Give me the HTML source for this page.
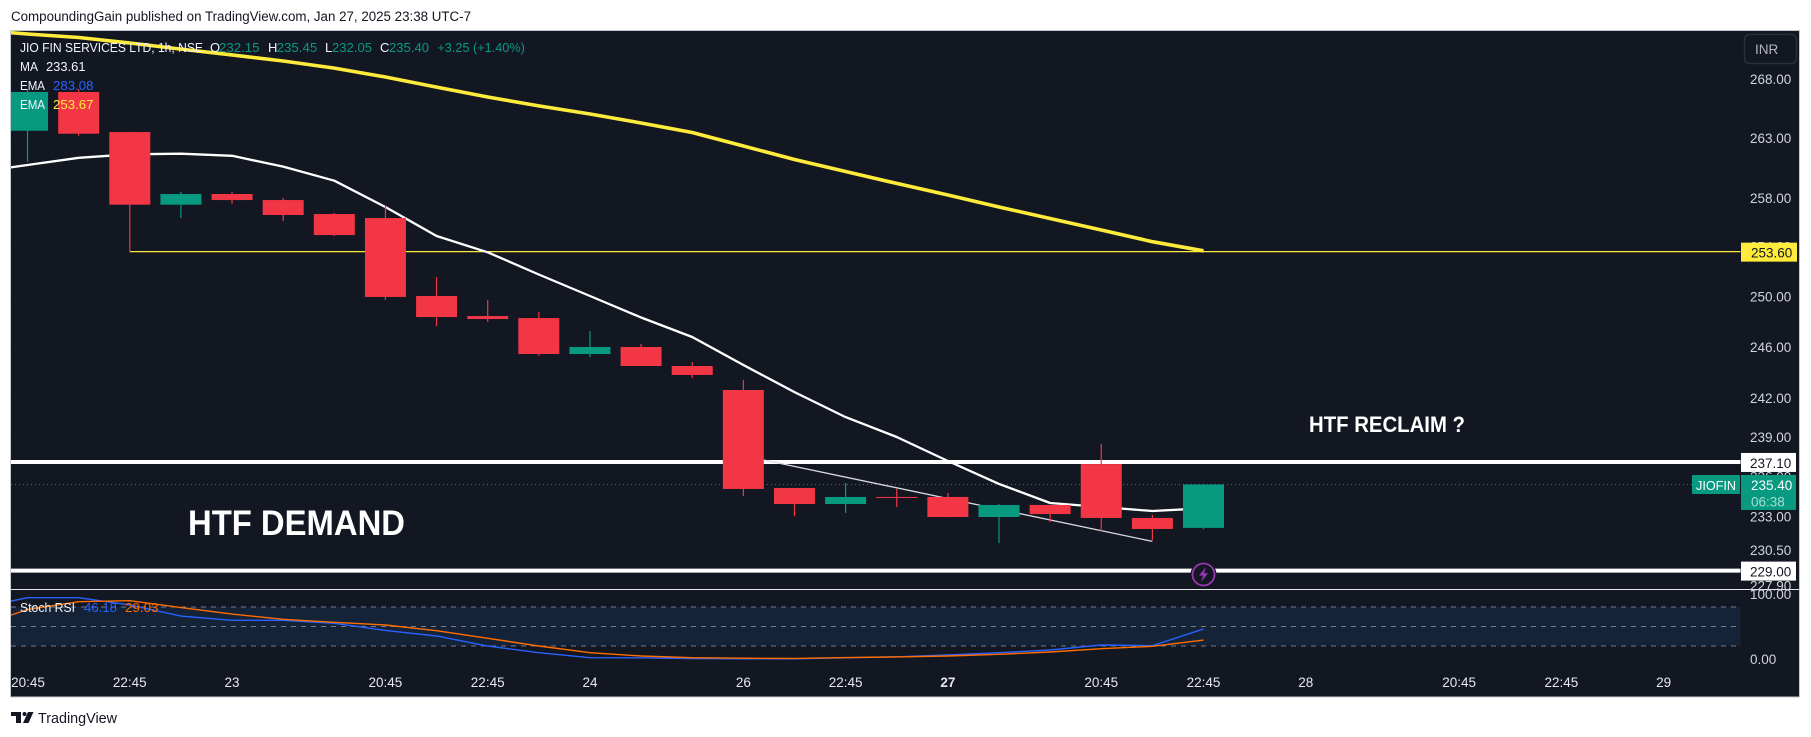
<!DOCTYPE html>
<html lang="en">
<head>
<meta charset="utf-8">
<title>JIOFIN 1h chart</title>
<style>
html,body{margin:0;padding:0;background:#fff;width:1811px;height:737px;overflow:hidden}
svg{display:block;font-family:"Liberation Sans",Arial,sans-serif}
</style>
</head>
<body>
<svg id="chart" xmlns="http://www.w3.org/2000/svg" width="1811" height="737" viewBox="0 0 1811 737">
  <defs>
    <clipPath id="plot-clip"><rect x="11" y="31" width="1729.500" height="558"/></clipPath>
    <clipPath id="osc-clip"><rect x="11" y="590" width="1729.500" height="70"/></clipPath>
  </defs>
  <rect x="0" y="0" width="1811" height="737" fill="#ffffff"/>
  <text x="11" y="21" font-size="13.500" fill="#131722" textLength="460" lengthAdjust="spacingAndGlyphs">CompoundingGain published on TradingView.com, Jan 27, 2025 23:38 UTC-7</text>
  <rect x="10.500" y="30.500" width="1789" height="666.500" fill="#131722" stroke="#c4c8d0" stroke-width="1"/>
  <g id="grid"></g>
  <g id="stoch-band"></g>
  <g id="levels"></g>
  <g id="lines" clip-path="url(#plot-clip)"></g>
  <g id="candles" clip-path="url(#plot-clip)"></g>
  <g id="stoch" clip-path="url(#osc-clip)"></g>
  <line x1="11" x2="1799" y1="589.500" y2="589.500" stroke="#e6e8ee" stroke-width="1"/>
  <g id="y-axis"></g>
  <g id="x-axis"></g>
  <g id="labels"></g>

  <g>
    <rect x="1744.500" y="34.500" width="52" height="29" rx="5" fill="#131722" stroke="#2a2e39" stroke-width="1.500"/>
    <text x="1755" y="54" font-size="13.500" fill="#b2b5be">INR</text>
  </g>

  <g font-size="13">
    <text x="20" y="52" fill="#f0f3fa" textLength="183" lengthAdjust="spacingAndGlyphs">JIO FIN SERVICES LTD, 1h, NSE</text>
    <text x="210" y="52" fill="#f0f3fa">O</text>
    <text x="219" y="52" fill="#089981" textLength="40.500" lengthAdjust="spacingAndGlyphs">232.15</text>
    <text x="268" y="52" fill="#f0f3fa">H</text>
    <text x="276.700" y="52" fill="#089981" textLength="40.500" lengthAdjust="spacingAndGlyphs">235.45</text>
    <text x="325" y="52" fill="#f0f3fa">L</text>
    <text x="332" y="52" fill="#089981" textLength="40" lengthAdjust="spacingAndGlyphs">232.05</text>
    <text x="380" y="52" fill="#f0f3fa">C</text>
    <text x="389" y="52" fill="#089981" textLength="40" lengthAdjust="spacingAndGlyphs">235.40</text>
    <text x="437.400" y="52" fill="#089981" textLength="87.500" lengthAdjust="spacingAndGlyphs">+3.25 (+1.40%)</text>
    <text x="20" y="71" fill="#f0f3fa" textLength="18" lengthAdjust="spacingAndGlyphs">MA</text>
    <text x="46" y="71" fill="#f0f3fa" textLength="39.500" lengthAdjust="spacingAndGlyphs">233.61</text>
    <text x="20" y="90" fill="#f0f3fa" textLength="25" lengthAdjust="spacingAndGlyphs">EMA</text>
    <text x="53" y="90" fill="#2962ff" textLength="40.500" lengthAdjust="spacingAndGlyphs">283.08</text>
    <text x="20" y="109" fill="#f0f3fa" textLength="25" lengthAdjust="spacingAndGlyphs">EMA</text>
    <text x="53" y="109" fill="#ffeb3b" textLength="40.500" lengthAdjust="spacingAndGlyphs">253.67</text>
  </g>

  <text x="188" y="535" font-size="35" font-weight="700" fill="#ffffff" textLength="217" lengthAdjust="spacingAndGlyphs">HTF DEMAND</text>
  <text x="1309" y="432" font-size="22" font-weight="700" fill="#ffffff" textLength="156" lengthAdjust="spacingAndGlyphs">HTF RECLAIM ?</text>

  <g font-size="13">
    <text x="20" y="612" fill="#f0f3fa" textLength="55" lengthAdjust="spacingAndGlyphs">Stoch RSI</text>
    <text x="84" y="612" fill="#2962ff" textLength="33" lengthAdjust="spacingAndGlyphs">46.18</text>
    <text x="125" y="612" fill="#ff6d00" textLength="33.500" lengthAdjust="spacingAndGlyphs">29.03</text>
  </g>

  <g>
    <circle cx="1203.500" cy="574.500" r="13" fill="#131722"/>
    <circle cx="1203.500" cy="574.500" r="11" fill="#131722" stroke="#9c35b5" stroke-width="1.800"/>
    <polygon points="1206,567 1199,575.500 1203,575.500 1201,582 1208,573.300 1204,573.300" fill="#9c35b5"/>
  </g>

  <g>
    <path d="M11 712h10v11h-5v-7h-5z" fill="#131722"/>
    <circle cx="24.500" cy="714" r="2" fill="#131722"/>
    <polygon points="28,712 33.500,712 28.500,723 23,723" fill="#131722"/>
    <text x="38" y="723" font-size="14.500" fill="#131722" textLength="79" lengthAdjust="spacingAndGlyphs">TradingView</text>
  </g>
</svg>
<script>
// ---- price data: one entry per hourly bar, oldest first (first bar is off-screen left)
const opens  = [266.90,263.60,266.89,263.49,257.44,258.32,257.82,256.67,256.34,250.03,248.43,248.27,245.43,245.98,244.49,242.62,235.13,233.93,234.46,234.46,232.96,233.86,236.94,232.89,232.15];
const highs  = [267.30,267.14,267.14,263.49,258.49,258.49,257.99,256.75,257.33,251.55,249.71,248.75,247.24,246.22,244.80,243.40,235.13,235.51,235.06,234.76,233.93,233.86,238.47,233.11,235.45];
const lows   = [266.20,261.00,263.18,253.60,256.34,257.52,256.10,254.87,249.71,247.64,247.96,245.27,245.19,244.49,243.55,234.53,233.03,233.26,233.71,232.96,231.03,232.59,231.92,231.25,232.05];
const closes = [266.50,266.89,263.35,257.44,258.32,257.82,256.59,254.95,249.95,248.35,248.19,245.43,245.98,244.49,243.79,235.06,233.93,234.46,234.40,232.96,233.86,233.18,232.89,232.07,235.40];
// ---- indicators
const maValues  = [260.14,260.73,261.33,261.62,261.67,261.50,260.59,259.42,257.25,254.87,253.55,251.75,250.03,248.31,246.77,244.57,242.46,240.53,239.00,237.17,235.44,234.01,233.71,233.41,233.61];
const emaValues = [272.23,271.89,271.58,271.10,270.58,270.07,269.55,268.94,268.17,267.31,266.46,265.70,265.02,264.25,263.45,262.32,261.19,260.19,259.20,258.24,257.25,256.30,255.36,254.41,253.67];
const stochK = [78,94.3,94.3,83,66,59.5,59.5,55,44,35.4,20,9.7,2,1.8,0.8,0.3,0.3,1.8,3.4,6.2,9.7,13.8,21.5,20.5,46.18];
const stochD = [50,76,88.2,89.7,79,69,61.1,56.5,52.3,43.5,31.8,20,9.7,4.6,2,1.2,0.9,2.2,3.2,4.6,7.2,10.8,15.9,19.5,29.03];
// ---- axes
const priceTicks = [268,263,258,254,250,246,242,239,236,233,230.5,227.9];
const stochTicks = [100,0];
const stochBands = [80,50,20];
const timeTicks  = ["20:45","22:45","23","20:45","22:45","24","26","22:45","27","20:45","22:45","28","20:45","22:45","29"];
const timeTickBars = [1,3,5,8,10,12,15,17,19,22,24,26,29,31,33];
const boldTimeTicks = ["27"];
// ---- drawings
const drawnLevels = [237.10,229.00];
const emaLevel = 253.60;
const emaLevelStartBar = 3;
const lastPrice = 235.40;
const symbolTag = "JIOFIN";
const countdown = "06:38";
const trendStart = {bar:15.4, price:237.25};
const trendEnd   = {bar:23, price:231.15};

// ---- scales
const SVGNS = "http://www.w3.org/2000/svg";
function xOf(i){ return -23.6 + 51.13 * i; }
function yOf(p){ return 79 + 3126 * Math.log(268 / p); }
function yStoch(v){ return 659 - 0.65 * v; }
function make(tag, parent, attrs, text){
  const el = document.createElementNS(SVGNS, tag);
  for (const k in attrs) el.setAttribute(k, attrs[k]);
  if (text !== undefined) el.textContent = text;
  parent.appendChild(el);
  return el;
}
function polyPoints(values, yFn){
  return values.map(function(v, i){ return xOf(i).toFixed(1) + "," + yFn(v).toFixed(1); }).join(" ");
}
const $ = function(id){ return document.getElementById(id); };
const PLOT_RIGHT = 1740.5;
const UP = "#089981", DOWN = "#f23645";

// grid
priceTicks.forEach(function(p){
  const el = make("line", $("grid"), {x1:11, x2:PLOT_RIGHT, y1:yOf(p), y2:yOf(p), stroke:"#161a25", "stroke-width":1});
  
  
});
timeTickBars.forEach(function(b){
  const el = make("line", $("grid"), {x1:xOf(b), x2:xOf(b), y1:31, y2:660, stroke:"#161a25", "stroke-width":1});
  
  
});

// stoch band
const bandRect = make("rect", $("stoch-band"), {x:11, width:PLOT_RIGHT-11, y:yStoch(stochBands[0]), height:yStoch(stochBands[2])-yStoch(stochBands[0]), fill:"#142338"});


stochBands.forEach(function(v){
  const el = make("line", $("stoch-band"), {x1:11, x2:PLOT_RIGHT, y1:yStoch(v), y2:yStoch(v), stroke:"#787b86", "stroke-width":1, "stroke-dasharray":"5 5"});
  
  
});

// levels
drawnLevels.forEach(function(p){
  const el = make("line", $("levels"), {x1:11, x2:PLOT_RIGHT, y1:yOf(p), y2:yOf(p), stroke:"#ffffff", "stroke-width":4});
  
  
});
const emaLine = make("line", $("levels"), {x1:xOf(emaLevelStartBar), x2:PLOT_RIGHT, y1:yOf(emaLevel), y2:yOf(emaLevel), stroke:"#ffeb3b", "stroke-width":1.3});


const lastLine = make("line", $("levels"), {x1:11, x2:1692, y1:yOf(lastPrice), y2:yOf(lastPrice), stroke:UP, "stroke-width":1, "stroke-dasharray":"1 3"});



// indicator lines
const emaPath = make("polyline", $("lines"), {points:polyPoints(emaValues, yOf), fill:"none", stroke:"#ffeb3b", "stroke-width":3.6, "stroke-linejoin":"round"});


const maPath = make("polyline", $("lines"), {points:polyPoints(maValues, yOf), fill:"none", stroke:"#ffffff", "stroke-width":2.3, "stroke-linejoin":"round"});


const trendLine = make("line", $("lines"), {x1:xOf(trendStart.bar), y1:yOf(trendStart.price), x2:xOf(trendEnd.bar), y2:yOf(trendEnd.price), stroke:"#d8dae0", "stroke-width":1.3});



// candles
opens.forEach(function(o, i){
  const c = closes[i];
  const col = c >= o ? UP : DOWN;
  const x = xOf(i);
  const wick = make("line", $("candles"), {x1:x, x2:x, y1:yOf(highs[i]), y2:yOf(lows[i]), stroke:col, "stroke-width":1.2});
  
  
  const top = yOf(Math.max(o, c)), bot = yOf(Math.min(o, c));
  const body = make("rect", $("candles"), {x:x-20.5, width:41, y:top, height:Math.max(bot-top, 1), fill:col});
  
  
});

// stoch RSI
const kPath = make("polyline", $("stoch"), {points:polyPoints(stochK, yStoch), fill:"none", stroke:"#2962ff", "stroke-width":1.4});


const dPath = make("polyline", $("stoch"), {points:polyPoints(stochD, yStoch), fill:"none", stroke:"#ff6d00", "stroke-width":1.4});



// price axis
priceTicks.forEach(function(p){
  const el = make("text", $("y-axis"), {x:1750, y:yOf(p)+5, "font-size":13.5, fill:"#d1d4dc"}, p.toFixed(2));
  
  
});
stochTicks.forEach(function(v){
  const el = make("text", $("y-axis"), {x:1750, y:yStoch(v)+5, "font-size":13.5, fill:"#d1d4dc"}, v.toFixed(2));
  
  
});

// time axis
timeTicks.forEach(function(t, i){
  const x = Math.max(xOf(timeTickBars[i]), 28);
  const el = make("text", $("x-axis"), {x:x, y:687, "font-size":13.5, fill:"#e6e8ee", "text-anchor":"middle", "font-weight":boldTimeTicks.indexOf(t) >= 0 ? 700 : 400}, t);
  
  
});

// price labels
drawnLevels.forEach(function(p){
  const y = yOf(p);
  const box = make("rect", $("labels"), {x:1741, y:y-9, width:55, height:19, fill:"#ffffff"});
  
  
  const txt = make("text", $("labels"), {x:1750, y:y+6, "font-size":13.5, fill:"#131722"}, p.toFixed(2));
  
  
});
const emaBox = make("rect", $("labels"), {x:1741, y:yOf(emaLevel)-9, width:56, height:19, fill:"#ffeb3b"});


const emaTxt = make("text", $("labels"), {x:1751, y:yOf(emaLevel)+6, "font-size":13.5, fill:"#131722"}, emaLevel.toFixed(2));



const lastY = yOf(lastPrice);
const tagBox = make("rect", $("labels"), {x:1692, y:lastY-9.5, width:48, height:19, rx:1, fill:UP});


const tagTxt = make("text", $("labels"), {x:1696, y:lastY+5.5, "font-size":13, fill:"#ffffff", textLength:40, lengthAdjust:"spacingAndGlyphs"}, symbolTag);


const lastBox = make("rect", $("labels"), {x:1741, y:lastY-9.5, width:55, height:35, fill:UP});


const lastTxt = make("text", $("labels"), {x:1751, y:lastY+5.5, "font-size":13.5, fill:"#ffffff"}, lastPrice.toFixed(2));


const cdTxt = make("text", $("labels"), {x:1751, y:lastY+22, "font-size":13.5, fill:"#a6dccf"}, countdown);


</script>
</body>
</html>
